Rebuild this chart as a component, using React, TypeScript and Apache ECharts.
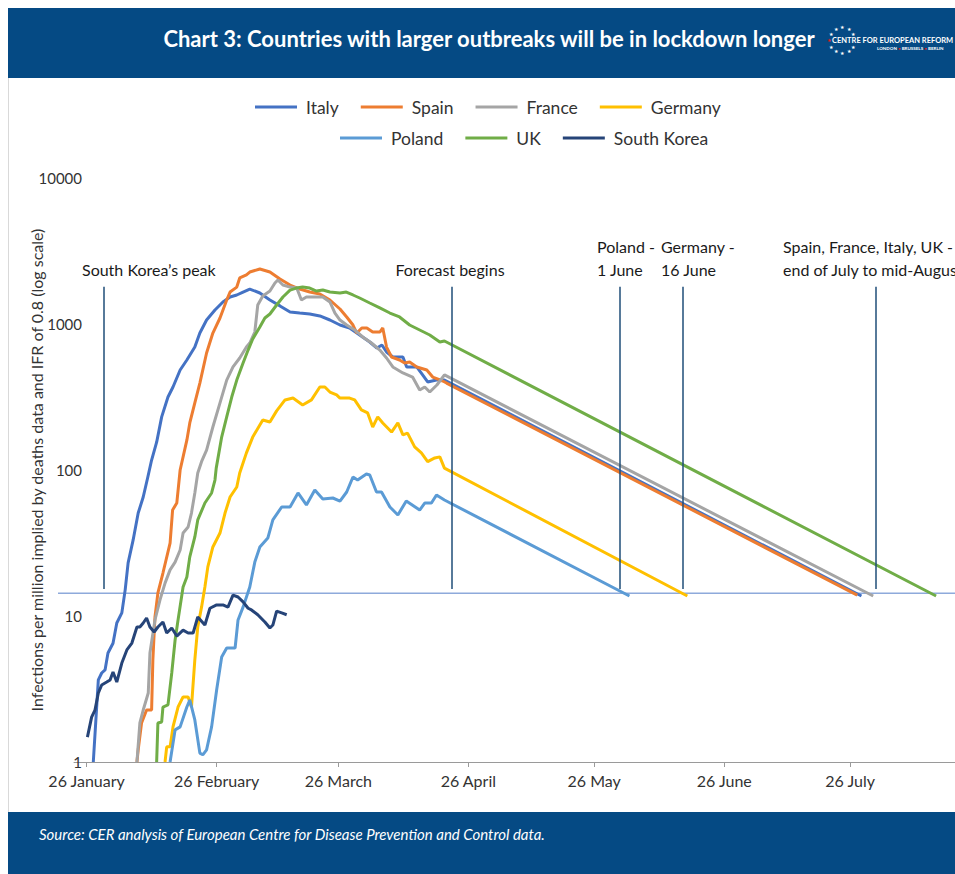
import React, { useEffect, useRef } from "react";
import * as echarts from "echarts";

// ---------- DATA ----------
// x values are days counted from 26 January 2020
const tickDays = [0, 31, 60, 91, 121, 152, 182];
const tickLabels = ["26 January", "26 February", "26 March", "26 April", "26 May", "26 June", "26 July"];

const countries = ["Italy", "Spain", "France", "Germany", "Poland", "UK", "South Korea"];

const italyDays = [1.6, 2.8, 3.6, 4.4, 5.1, 6.3, 7.2, 8.4, 9.2, 9.9, 11.1, 12.3, 13.5, 14.6, 15.5, 16.7, 17.9, 19.4, 20.6, 22.3, 23.9, 25.8, 27.0, 28.6, 30.6, 32.5, 34.2, 35.8, 37.3, 38.9, 41.3, 43.7, 46.1, 48.5, 50.8, 53.2, 55.6, 58.0, 60.4, 62.7, 65.1, 67.5, 69.2, 70.4, 71.5, 73.0, 75.4, 76.3, 78.7, 80.1, 81.3, 83.4, 85.3];
const italyValues = [1, 3.65, 4.07, 4.27, 5.58, 6.5, 8.95, 10.5, 15.1, 23.1, 33.2, 50.7, 65.3, 89.6, 117, 155, 231, 316, 370, 484, 567, 695, 867, 1065, 1247, 1415, 1531, 1580, 1655, 1735, 1630, 1460, 1330, 1208, 1189, 1171, 1135, 1065, 984, 939, 841, 753, 685, 718, 643, 594, 594, 508, 508, 448, 401, 413, 413];

const spainDays = [12.0, 12.3, 13.1, 14.3, 15.5, 15.8, 16.3, 17.0, 18.2, 19.9, 20.5, 21.5, 22.3, 23.9, 24.6, 25.8, 27.0, 28.6, 30.1, 31.8, 33.4, 34.2, 35.8, 36.5, 38.1, 38.9, 41.3, 43.7, 46.1, 48.5, 50.8, 53.2, 55.6, 58.0, 60.4, 62.0, 63.5, 64.4, 65.6, 66.8, 68.2, 69.9, 70.6, 71.5, 72.7, 74.6, 75.8, 77.0, 78.7, 81.1, 82.5, 84.9, 85.8];
const spainValues = [1, 1.21, 1.85, 2.27, 2.27, 5.0, 9.84, 14.4, 19.7, 31.6, 53.2, 59.4, 100, 160, 210, 288, 394, 633, 867, 1099, 1460, 1655, 1790, 2067, 2168, 2270, 2381, 2270, 2033, 1849, 1735, 1655, 1605, 1460, 1267, 1117, 984, 867, 939, 939, 881, 881, 939, 695, 594, 567, 541, 549, 508, 484, 433, 407, 394];

const franceDays = [12.0, 12.7, 13.5, 14.7, 15.1, 16.3, 17.5, 18.7, 19.9, 21.1, 22.3, 23.0, 24.2, 25.0, 25.8, 26.5, 27.4, 28.6, 30.1, 31.8, 33.4, 34.9, 36.5, 38.1, 38.9, 40.1, 40.8, 42.0, 43.7, 44.9, 45.6, 46.8, 48.5, 50.1, 51.2, 52.4, 53.9, 56.3, 58.0, 59.2, 60.4, 62.0, 63.9, 65.8, 67.9, 69.9, 71.5, 73.0, 75.4, 77.7, 79.4, 80.6, 81.8, 83.5, 85.3];
const franceValues = [1, 1.85, 2.27, 2.97, 5.58, 9.39, 12.9, 16.8, 20.7, 23.4, 28.3, 37.0, 40.7, 50.7, 69.6, 95.4, 114, 137, 197, 288, 413, 508, 585, 695, 741, 881, 1349, 1556, 1682, 1909, 2002, 1849, 1790, 1762, 1460, 1531, 1531, 1531, 1415, 1189, 1065, 984, 910, 815, 741, 663, 585, 508, 462, 433, 353, 370, 342, 382, 448];

const germanyDays = [18.7, 19.1, 19.9, 20.6, 21.8, 23.0, 24.2, 25.0, 25.8, 26.5, 27.4, 28.2, 28.9, 30.1, 31.8, 33.0, 34.2, 35.8, 36.5, 38.1, 39.6, 42.0, 43.7, 45.3, 47.3, 49.2, 51.5, 53.6, 55.6, 56.8, 58.0, 59.6, 60.4, 62.7, 63.9, 65.5, 67.0, 68.2, 69.4, 70.6, 72.7, 74.2, 75.4, 76.5, 78.2, 79.8, 81.3, 83.0, 84.2, 85.3];
const germanyValues = [1, 1.27, 1.27, 1.74, 2.38, 2.79, 2.79, 2.38, 5.0, 8.41, 11.5, 15.8, 21.7, 29.7, 37.0, 50.7, 65.3, 76.5, 95.4, 131, 168, 220, 213, 254, 302, 311, 279, 302, 370, 370, 342, 327, 311, 311, 302, 258, 246, 197, 231, 210, 182, 210, 174, 179, 144, 131, 114, 121, 123, 103];

const polandDays = [19.9, 21.1, 22.3, 23.9, 24.6, 25.8, 27.0, 27.7, 28.6, 29.8, 31.0, 32.2, 33.4, 35.4, 36.1, 37.3, 38.9, 40.1, 41.3, 43.2, 44.4, 46.5, 48.5, 50.4, 52.4, 54.4, 56.3, 58.7, 60.4, 62.0, 63.5, 64.6, 66.7, 67.5, 69.1, 70.3, 72.3, 74.2, 76.2, 79.4, 80.6, 82.2, 83.4, 85.3];
const polandValues = [1, 1.66, 1.74, 2.38, 2.66, 1.94, 1.15, 1.12, 1.21, 1.74, 3.11, 5.24, 6.04, 6.04, 9.39, 11.5, 15.8, 23.4, 29.7, 34.2, 45.5, 55.8, 55.8, 69.6, 57.6, 72.9, 63.3, 64.3, 61.3, 70.7, 89.6, 85.4, 93.9, 92.5, 70.7, 70.7, 55.8, 49.2, 61.3, 53.2, 59.4, 59.4, 67.4, 62.3];

const ukDays = [16.7, 17.0, 17.9, 18.2, 19.4, 20.3, 21.1, 21.8, 23.0, 23.9, 24.6, 25.8, 26.5, 28.2, 29.8, 30.6, 30.9, 32.2, 33.4, 34.6, 35.8, 37.3, 38.5, 39.6, 41.3, 42.5, 43.7, 45.3, 46.8, 48.5, 50.0, 51.5, 53.2, 54.8, 56.3, 58.0, 60.4, 61.9, 63.5, 65.1, 67.5, 69.9, 72.3, 74.6, 77.0, 79.4, 81.8, 84.2, 85.3];
const ukValues = [1, 1.85, 1.88, 2.38, 2.46, 4.07, 6.85, 9.39, 15.8, 18.5, 25.4, 34.8, 45.5, 59.4, 69.6, 85.4, 103, 168, 231, 316, 413, 541, 663, 789, 953, 1099, 1171, 1349, 1531, 1708, 1762, 1790, 1762, 1682, 1708, 1655, 1630, 1655, 1580, 1507, 1393, 1288, 1189, 1117, 984, 910, 841, 753, 765];

const koreaDays = [0.2, 1.2, 2.0, 2.8, 3.6, 4.8, 5.6, 6.3, 7.2, 8.4, 9.6, 10.8, 12.0, 12.7, 13.5, 14.3, 15.1, 16.1, 17.0, 18.2, 19.1, 20.3, 21.5, 23.0, 24.2, 25.4, 26.5, 28.2, 29.4, 31.0, 32.5, 33.7, 34.9, 36.1, 37.3, 38.5, 39.3, 40.8, 42.5, 43.7, 44.4, 45.3, 46.5, 47.7];
const koreaValues = [1.48, 2.03, 2.27, 2.97, 3.37, 3.53, 3.65, 4.13, 3.53, 4.76, 5.85, 6.53, 8.41, 8.41, 8.95, 9.69, 8.41, 7.77, 8.41, 9.10, 7.65, 8.28, 7.29, 8.0, 7.65, 7.65, 9.84, 8.67, 11.3, 11.9, 11.9, 11.5, 13.9, 13.5, 12.5, 11.3, 11.0, 10.2, 9.10, 8.28, 8.67, 10.8, 10.5, 10.2];

// forecast end points (Italy, Spain, France, Germany, Poland, UK; none for South Korea)
const forecastEndDays = [184.7, 183.7, 187.5, 143.2, 129.4, 202.5, null];
const forecastEndValues = [13.7, 13.9, 13.7, 13.7, 13.7, 13.7, null];

// annotation lines: South Korea's peak, forecast begins, Poland, Germany, Spain/France/Italy/UK
const markerDays = [4.2, 87, 127, 142, 188];
const markerTop = 1800;
const markerBottom = 15.3;
const thresholdValue = 14.3;

const colors = ["#4472c4", "#ed7d31", "#a5a5a5", "#ffc000", "#5b9bd5", "#70ad47", "#264478"];

const allDays = [italyDays, spainDays, franceDays, germanyDays, polandDays, ukDays, koreaDays];
const allValues = [italyValues, spainValues, franceValues, germanyValues, polandValues, ukValues, koreaValues];

const FONT = 'Lato, "Open Sans", sans-serif';
const NAVY = "#054a84";

function buildGraphics(thresholdY?: number) {
  const g: any[] = [];
  g.push({ id: "hdr", type: "rect", shape: { x: 8, y: 8, width: 947, height: 70 }, style: { fill: NAVY }, silent: true });
  g.push({ id: "ftr", type: "rect", shape: { x: 8, y: 812, width: 947, height: 62 }, style: { fill: NAVY }, silent: true });
  g.push({ id: "frame", type: "line", shape: { x1: 8.5, y1: 78, x2: 8.5, y2: 812 }, style: { stroke: "#d9d9d9", lineWidth: 1 }, silent: true });
  g.push({
    id: "title", type: "text", x: 489, y: 38,
    style: { text: "Chart 3: Countries with larger outbreaks will be in lockdown longer", fill: "#ffffff", font: `bold 22px ${FONT}`, textAlign: "center", textVerticalAlign: "middle" },
  });
  // logo stars
  const cx = 842, cy = 40, r = 13;
  for (let i = 0; i < 12; i++) {
    const a = (i * Math.PI) / 6;
    if (i === 0) continue;
    const red = i === 6;
    g.push({
      id: "star" + i, type: "text", x: cx + r * Math.cos(a), y: cy - r * Math.sin(a),
      style: { text: "\u2605", fill: red ? "#e02020" : "#ffffff", font: `5px ${FONT}`, textAlign: "center", textVerticalAlign: "middle" },
    });
  }
  g.push({
    id: "logo1", type: "text", x: 832, y: 40,
    style: { text: "CENTRE FOR EUROPEAN REFORM", fill: "#ffffff", font: `bold 7.5px ${FONT}`, textAlign: "left", textVerticalAlign: "middle" },
  });
  g.push({
    id: "logo2", type: "text", x: 877, y: 48.5,
    style: {
      text: "{w|LONDON }{r|\u2022}{w| BRUSSELS }{r|\u2022}{w| BERLIN}",
      rich: { w: { fill: "#ffffff", font: `bold 4.5px ${FONT}` }, r: { fill: "#e02020", font: `bold 4.5px ${FONT}` } },
      textAlign: "left", textVerticalAlign: "middle",
    },
  });
  g.push({
    id: "source", type: "text", x: 39, y: 834,
    style: { text: "Source: CER analysis of European Centre for Disease Prevention and Control data.", fill: "#ffffff", font: `italic 15px ${FONT}`, textAlign: "left", textVerticalAlign: "middle" },
  });
  const ann = (id: string, text: string, x: number, y: number, align = "left") => ({
    id, type: "text", x, y, style: { text, fill: "#1a1a1a", font: `16px ${FONT}`, textAlign: align, textVerticalAlign: "middle" },
  });
  g.push(ann("a1", "South Korea\u2019s peak", 82, 269));
  g.push(ann("a2", "Forecast begins", 450, 269, "center"));
  g.push(ann("a3", "Poland -", 597, 246));
  g.push(ann("a4", "1 June", 597, 269));
  g.push(ann("a5", "Germany -", 661, 246));
  g.push(ann("a6", "16 June", 661, 269));
  g.push(ann("a7", "Spain, France, Italy, UK -", 783, 246));
  g.push(ann("a8", "end of July to mid-August", 783, 269));
  if (thresholdY !== undefined) {
    g.push({ id: "thr", type: "line", shape: { x1: 58, y1: thresholdY, x2: 955, y2: thresholdY }, style: { stroke: "#8eaadb", lineWidth: 1.5 }, silent: true });
  }
  return g;
}

function buildOption(): any {
  const series: any[] = countries.map((name, i) => {
    const data: any[] = allDays[i].map((d, k) => [d, allValues[i][k]]);
    if (forecastEndDays[i] !== null) data.push([forecastEndDays[i], forecastEndValues[i]]);
    return {
      name, type: "line", data, showSymbol: false, symbol: "none",
      lineStyle: { width: 3, color: colors[i] }, itemStyle: { color: colors[i] },
      z: 3, silent: true,
    };
  });
  series.push({
    name: "markers", type: "line", data: [], silent: true, z: 4,
    markLine: {
      silent: true, symbol: ["none", "none"], label: { show: false }, animation: false,
      lineStyle: { color: "#1f4e79", width: 1.5, type: "solid" },
      data: markerDays.map((d) => [{ coord: [d, markerTop] }, { coord: [d, markerBottom] }]),
    },
  });
  const legendCommon = {
    icon: "rect", itemWidth: 42, itemHeight: 3, itemGap: 22,
    textStyle: { fontSize: 17.5, fontFamily: FONT, color: "#333", padding: [0, 0, 0, 4] },
    selectedMode: false,
  };
  return {
    animation: false,
    color: colors,
    grid: { left: 74, right: 0, top: 178, bottom: 112 },
    legend: [
      { ...legendCommon, data: ["Italy", "Spain", "France", "Germany"], left: 250, top: 93 },
      { ...legendCommon, data: ["Poland", "UK", "South Korea"], left: 335, top: 124 },
    ],
    xAxis: {
      type: "value", min: -3, max: 207,
      axisLine: { show: true, onZero: false, lineStyle: { color: "#9a9a9a", width: 1 } },
      axisTick: { show: true, customValues: tickDays, length: 5, lineStyle: { color: "#9a9a9a" } },
      axisLabel: {
        customValues: tickDays,
        formatter: (v: number) => { const i = tickDays.indexOf(Math.round(v)); return i >= 0 ? tickLabels[i] : ""; },
        fontSize: 16, fontFamily: FONT, color: "#333", margin: 10,
      },
      splitLine: { show: false },
    },
    yAxis: {
      type: "log", logBase: 10, min: 1, max: 10000,
      axisLine: { show: false }, axisTick: { show: false }, splitLine: { show: false },
      axisLabel: { fontSize: 15, fontFamily: FONT, color: "#333", margin: -8, formatter: (v: number) => String(Math.round(v)) },
      name: "Infections per million implied by deaths data and IFR of 0.8 (log scale)",
      nameLocation: "middle", nameRotate: 90, nameGap: 30, nameMoveOverlap: false,
      nameTextStyle: { fontSize: 16, fontFamily: FONT, color: "#333" },
    },
    graphic: buildGraphics(),
    series,
  };
}

export default function App() {
  const ref = useRef<HTMLDivElement>(null);
  useEffect(() => {
    if (!ref.current) return;
    const chart = echarts.init(ref.current, null, { renderer: "svg" });
    chart.setOption(buildOption());
    const yPix = chart.convertToPixel({ yAxisIndex: 0 } as any, thresholdValue) as unknown as number;
    chart.setOption({ graphic: buildGraphics(yPix) }, { replaceMerge: ["graphic"] } as any);
    return () => chart.dispose();
  }, []);
  return <div ref={ref} style={{ position: "absolute", left: 0, top: 0, width: 955, height: 874 }} />;
}
